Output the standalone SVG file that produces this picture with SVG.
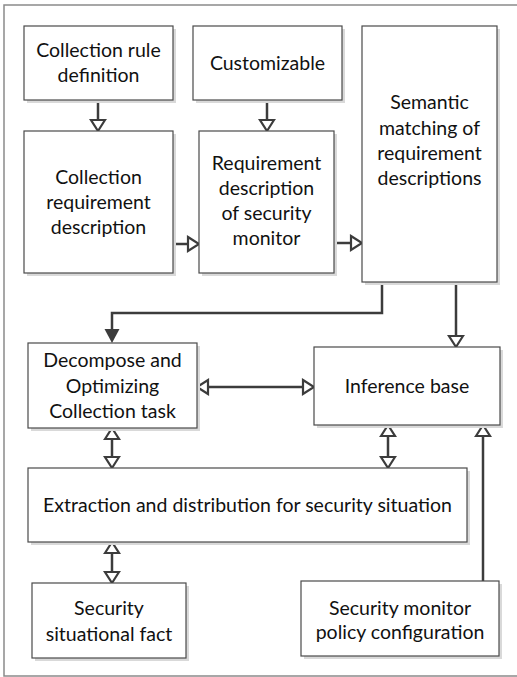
<svg xmlns="http://www.w3.org/2000/svg" width="517" height="677" viewBox="0 0 517 677">
<style>
.sh{fill:#d9d9d9;stroke:none}
.bx{fill:#fff;stroke:#4a4a4a;stroke-width:1.2}
.t{font-family:Lato,"Liberation Sans",sans-serif;font-size:19.5px;fill:#111;text-anchor:middle}
.c{fill:none;stroke:#3c3c3c;stroke-width:2.5}
</style>
<defs>
<marker id="h" markerUnits="userSpaceOnUse" markerWidth="16" markerHeight="18" viewBox="-2 -9 16 18" refX="0" refY="0" orient="auto-start-reverse">
<path d="M0,-7 L11,0 L0,7 Z" fill="#fff" stroke="#3c3c3c" stroke-width="2.2" stroke-linejoin="miter"/>
</marker>
<marker id="f" markerUnits="userSpaceOnUse" markerWidth="16" markerHeight="18" viewBox="-1 -9 16 18" refX="0" refY="0" orient="auto">
<path d="M0,-7.5 L14,0 L0,7.5 Z" fill="#3c3c3c"/>
</marker>
</defs>
<rect x="4" y="5" width="520" height="671" fill="#fff" stroke="#8a8a8a" stroke-width="1.5"/>

<g id="connectors">
<path class="c" d="M98,100 V120" marker-end="url(#h)"/>
<path class="c" d="M267,100 V120" marker-end="url(#h)"/>
<path class="c" d="M173,244 H188" marker-end="url(#h)"/>
<path class="c" d="M334,243 H351" marker-end="url(#h)"/>
<path class="c" d="M382,282 V313 H112 V329" marker-end="url(#f)"/>
<path class="c" d="M456,282 V336" marker-end="url(#h)"/>
<path class="c" d="M208,387 H303" marker-start="url(#h)" marker-end="url(#h)"/>
<path class="c" d="M112,439 V457" marker-start="url(#h)" marker-end="url(#h)"/>
<path class="c" d="M388,436 V457" marker-start="url(#h)" marker-end="url(#h)"/>
<path class="c" d="M483,581 V436" marker-end="url(#h)"/>
<path class="c" d="M112,553 V572" marker-start="url(#h)" marker-end="url(#h)"/>
</g>

<g id="n1">
<rect class="sh" x="27" y="29" width="149" height="74"/>
<rect class="bx" x="24" y="26" width="149" height="74"/>
<text class="t" x="98.5" y="57">Collection rule</text>
<text class="t" x="98.5" y="82">definition</text>
</g>
<g id="n2">
<rect class="sh" x="196" y="29" width="149" height="74"/>
<rect class="bx" x="193" y="26" width="149" height="74"/>
<text class="t" x="267.5" y="70">Customizable</text>
</g>
<g id="n3">
<rect class="sh" x="27" y="134" width="149" height="142"/>
<rect class="bx" x="24" y="131" width="149" height="142"/>
<text class="t" x="98.5" y="184">Collection</text>
<text class="t" x="98.5" y="209">requirement</text>
<text class="t" x="98.5" y="234">description</text>
</g>
<g id="n4">
<rect class="sh" x="202" y="134" width="135" height="142"/>
<rect class="bx" x="199" y="131" width="135" height="142"/>
<text class="t" x="266.5" y="170">Requirement</text>
<text class="t" x="266.5" y="195">description</text>
<text class="t" x="266.5" y="220">of security</text>
<text class="t" x="266.5" y="245">monitor</text>
</g>
<g id="n5">
<rect class="sh" x="365" y="29" width="135" height="256"/>
<rect class="bx" x="362" y="26" width="135" height="256"/>
<text class="t" x="429.5" y="109">Semantic</text>
<text class="t" x="429.5" y="135">matching of</text>
<text class="t" x="429.5" y="160">requirement</text>
<text class="t" x="429.5" y="185">descriptions</text>
</g>
<g id="n6">
<rect class="sh" x="31" y="346" width="169" height="85"/>
<rect class="bx" x="28" y="343" width="169" height="85"/>
<text class="t" x="112.5" y="367">Decompose and</text>
<text class="t" x="112.5" y="393">Optimizing</text>
<text class="t" x="112.5" y="418">Collection task</text>
</g>
<g id="n7">
<rect class="sh" x="317" y="350" width="186" height="78"/>
<rect class="bx" x="314" y="347" width="186" height="78"/>
<text class="t" x="407" y="393">Inference base</text>
</g>
<g id="n8">
<rect class="sh" x="31" y="471" width="439" height="74"/>
<rect class="bx" x="28" y="468" width="439" height="74"/>
<text class="t" x="247.5" y="512">Extraction and distribution for security situation</text>
</g>
<g id="n9">
<rect class="sh" x="35" y="586" width="154" height="75"/>
<rect class="bx" x="32" y="583" width="154" height="75"/>
<text class="t" x="109" y="615">Security</text>
<text class="t" x="109" y="641">situational fact</text>
</g>
<g id="n10">
<rect class="sh" x="304" y="584" width="198" height="75"/>
<rect class="bx" x="301" y="581" width="198" height="75"/>
<text class="t" x="400" y="615">Security monitor</text>
<text class="t" x="400" y="639">policy configuration</text>
</g>
</svg>
